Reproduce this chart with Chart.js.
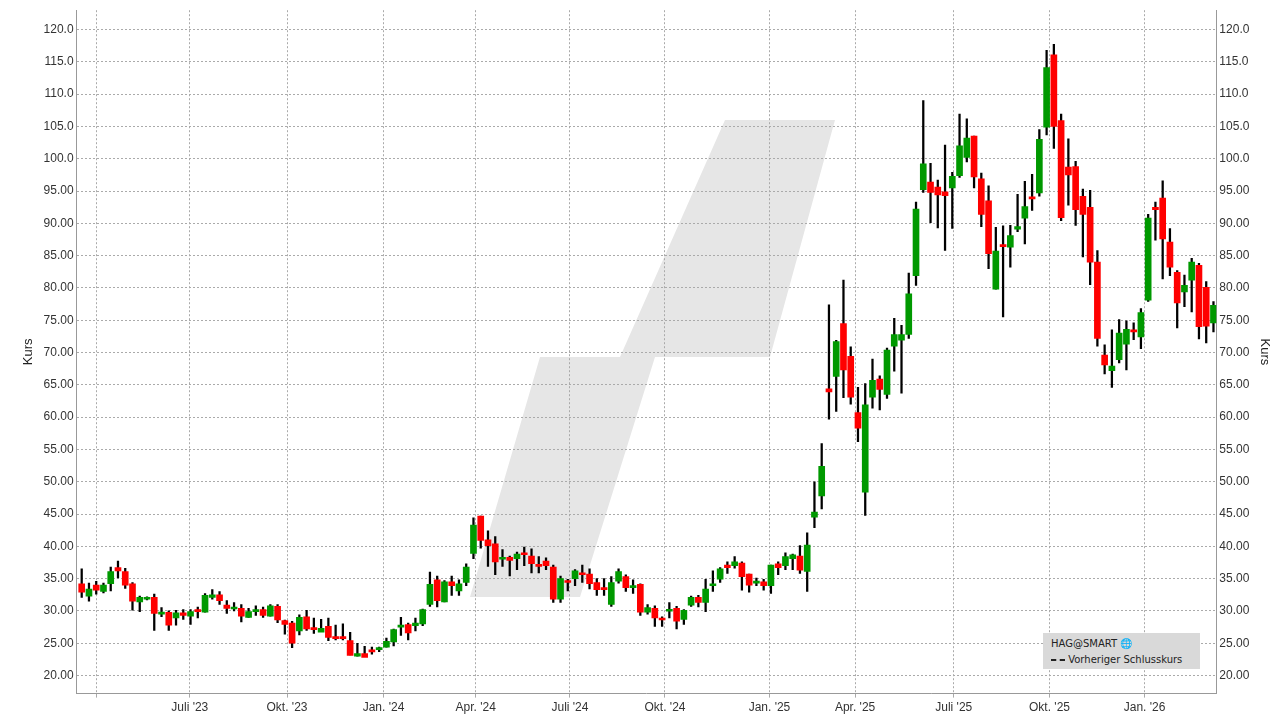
<!DOCTYPE html>
<html>
<head>
<meta charset="utf-8">
<script src="https://cdn.jsdelivr.net/npm/chart.js@4"></script>
<style>
  body { margin: 0; background: #fff; font-family: "DejaVu Sans", sans-serif; }
  #wrap { position: relative; width: 1280px; height: 718px; }
  #legend { position: absolute; left: 1043px; top: 633px; width: 157px; height: 36px; background: #d9d9d9; font-size: 10px; color: #222; }
  #legend div { position: absolute; left: 8px; }
</style>
</head>
<body>
<div id="wrap">
  <canvas id="myChart" width="1280" height="718"></canvas>
  <div id="legend">
    <div style="top:5px">HAG@SMART &#127760;</div>
    <div style="top:21px"><span style="display:inline-block;width:14px;border-top:2px dashed #222;vertical-align:middle"></span> Vorheriger Schlusskurs</div>
  </div>
</div>
<script>
// Wochenkerzen (Open, High, Low, Close)
const open = [34.2,32.3,34.0,33.0,34.2,36.7,36.1,34.2,31.4,31.8,32.1,29.5,29.8,28.9,29.7,29.2,30.2,29.8,32.1,32.5,30.9,30.3,30.4,29.0,29.9,30.2,29.2,30.7,28.5,28.1,26.9,29.1,27.4,
  26.7,27.6,26.0,26.0,25.4,23.0,23.4,23.9,24.0,24.4,25.2,27.5,27.9,27.7,28.0,31.0,34.8,31.4,34.5,33.1,34.4,38.9,44.7,41.0,40.4,38.0,38.3,38.1,39.0,38.5,37.1,37.7,36.8,
  31.8,34.7,35.0,35.9,35.7,34.4,33.6,31.0,34.6,35.3,33.6,34.1,29.8,30.4,28.8,29.95,30.4,28.7,30.9,32.1,31.3,33.9,34.9,37.1,37.0,37.4,35.7,34.3,34.5,33.9,37.3,37.0,38.1,38.5,36.1,
  44.5,47.8,64.4,66.3,74.5,69.4,60.7,48.4,63.1,65.9,63.5,71.0,71.9,72.8,81.9,95.2,96.4,95.6,94.9,95.5,97.4,100.2,103.5,96.9,93.5,
  79.8,86.7,86.3,89.1,90.8,94.0,94.7,104.9,116.1,105.9,98.7,98.8,94.2,92.5,84.0,69.6,67.2,68.9,71.3,73.5,72.4,78.1,92.5,93.9,87.1,82.4,79.4,81.2,83.5,80.1,74.6];
const high = [36.5,34.3,34.6,34.3,36.8,37.7,36.6,34.4,32.3,32.2,32.6,30.5,30.0,30.1,30.2,30.2,30.6,32.7,33.3,33.0,31.6,31.3,31.0,30.4,30.8,30.6,31.0,31.0,28.6,28.4,29.4,30.1,28.9,
  28.7,28.9,27.8,28.0,26.7,25.0,24.5,24.4,24.4,25.8,27.2,29.0,28.1,28.9,30.3,36.0,35.4,34.7,35.4,34.8,37.3,44.4,44.7,42.4,41.5,39.5,38.5,39.1,39.9,39.6,38.4,38.2,37.1,
  35.4,34.9,36.4,37.1,36.5,35.0,35.0,35.3,36.5,35.6,34.8,34.2,31.0,30.8,29.1,31.3,30.7,30.2,32.3,32.4,34.9,36.2,36.7,37.6,38.4,37.6,35.7,35.1,34.9,37.1,37.6,39.0,38.8,40.1,42.1,
  50.0,55.9,77.4,71.9,81.2,70.9,64.6,65.2,69.0,66.4,70.7,75.3,74.2,82.3,93.3,109.0,99.3,96.7,102.1,97.9,106.9,106.2,103.5,97.8,95.8,
  89.4,89.6,89.7,94.5,96.5,97.6,104.5,116.8,117.7,106.9,103.1,99.6,95.3,95.1,85.8,71.2,73.5,75.1,74.9,74.6,76.8,91.4,93.3,96.6,89.2,82.7,82.0,84.6,83.8,81.0,77.9];
const low = [32.1,31.5,32.6,32.8,33.1,35.1,33.5,30.1,29.9,31.7,27.0,29.1,27.0,27.8,28.7,27.9,28.9,29.8,31.8,31.0,29.6,30.0,28.3,29.0,29.3,29.0,29.2,28.2,26.4,24.3,26.3,27.0,26.5,
  27.1,25.4,25.5,25.5,23.2,23.0,23.2,23.3,23.7,24.4,24.6,26.2,25.5,26.9,27.7,30.7,30.6,31.4,32.4,32.4,33.9,38.1,39.7,36.9,35.6,36.9,35.4,36.4,37.0,35.9,35.9,36.4,31.3,
  31.3,33.1,33.9,34.4,33.4,32.4,32.4,30.7,34.3,33.0,32.7,29.3,29.5,27.6,27.6,28.9,27.2,27.9,30.7,30.6,29.9,33.0,34.4,35.8,36.6,33.2,32.9,33.9,33.2,32.7,35.6,36.4,36.4,35.8,33.0,
  42.9,45.8,59.7,60.9,63.0,62.0,56.2,44.8,61.4,61.1,62.9,67.1,63.7,72.2,80.4,94.8,90.1,89.3,85.8,89.2,97.1,99.5,95.5,89.5,83.0,
  79.8,75.5,83.2,88.7,86.8,92.0,94.2,103.7,101.6,90.4,92.8,89.7,84.8,80.5,71.0,66.7,64.6,68.4,67.3,72.0,70.6,77.9,87.4,81.4,81.9,73.8,77.1,76.3,72.1,71.5,73.2];
const close = [32.9,33.4,33.2,34.0,36.1,36.2,34.0,31.5,32.1,32.1,29.6,29.8,27.8,29.7,29.3,29.9,29.9,32.4,32.5,31.6,30.4,30.5,29.2,29.9,30.2,29.3,30.8,28.6,27.9,25.0,29.0,27.2,27.1,
  27.3,25.9,25.7,25.7,23.1,23.4,22.8,23.65,24.3,25.3,27.1,27.8,26.6,28.1,30.2,34.1,31.6,34.5,33.9,34.2,36.8,43.3,40.9,40.1,37.6,38.3,37.8,38.8,38.7,37.3,36.9,37.0,31.8,
  35.0,34.4,36.2,35.6,34.2,33.3,33.3,34.4,36.1,33.6,33.9,29.8,30.5,28.9,28.6,30.26,28.4,30.1,32.1,31.3,33.4,34.2,36.5,36.7,37.6,35.3,34.0,34.6,33.9,37.1,36.7,38.4,38.7,36.3,40.2,
  45.3,52.4,63.9,71.7,67.3,63.1,58.3,61.9,65.7,64.3,70.4,72.8,72.8,79.1,92.2,99.2,94.8,94.4,94.3,97.3,102.0,103.2,97.2,91.4,85.3,
  85.7,86.4,88.1,89.5,92.6,93.8,103.0,114.1,105.0,90.9,97.5,92.1,91.4,84.0,72.2,68.1,67.9,73.0,73.6,73.2,76.2,90.8,92.1,87.6,83.2,77.7,80.4,84.0,74.0,74.1,77.3];

// Quartalslinien (Position in Wochen) und Beschriftungen
const quarterPos = [2.1,14.9,28.3,41.6,54.3,67.3,80.4,94.8,106.6,120.2,133.4,146.5];
const quarterLabels = ['',"Juli '23","Okt. '23","Jan. '24","Apr. '24","Juli '24","Okt. '24","Jan. '25","Apr. '25","Juli '25","Okt. '25","Jan. '26"];

const wicks = high.map((h, i) => ({ x: i, y: [low[i], h] }));
const bodies = open.map((o, i) => ({ x: i, y: [o, close[i]] }));
const bodyColors = open.map((o, i) => close[i] >= o ? '#009900' : '#ff0000');

const watermark = {
  id: 'watermark',
  beforeDraw(chart) {
    const c = chart.ctx;
    c.save();
    c.fillStyle = '#e6e6e6';
    c.beginPath();
    c.moveTo(725, 120); c.lineTo(835, 120); c.lineTo(770, 357); c.lineTo(655, 357);
    c.lineTo(580, 597); c.lineTo(470, 597); c.lineTo(540, 357); c.lineTo(620, 357);
    c.closePath();
    c.fill();
    c.restore();
  }
};

const yTicks = {
  color: '#333', font: { size: 12 },
  callback: v => Number(v).toPrecision(4)
};
const fiveSteps = s => { s.ticks = []; for (let v = 20; v <= 120; v += 5) s.ticks.push({ value: v }); };

new Chart(document.getElementById('myChart'), {
  type: 'bar',
  data: {
    datasets: [
      { data: bodies, backgroundColor: bodyColors, barThickness: 6, minBarLength: 2, grouped: false, order: 1 },
      { data: wicks, backgroundColor: '#000', barThickness: 1.6, grouped: false, order: 2 }
    ]
  },
  plugins: [watermark],
  options: {
    responsive: false,
    animation: false,
    layout: { padding: { top: 0, right: 4, bottom: 0, left: 17 } },
    plugins: { legend: { display: false }, tooltip: { enabled: false } },
    scales: {
      x: {
        type: 'linear', min: -0.7, max: 156.4, offset: false,
        afterBuildTicks: s => { s.ticks = quarterPos.map(v => ({ value: v })); },
        ticks: { autoSkip: false, maxRotation: 0, color: '#333', font: { size: 12 },
          callback: (v, i) => quarterLabels[i] },
        grid: { color: '#aaaaaa', offset: false, tickLength: 4 },
        border: { color: '#999', dash: [2, 2] }
      },
      y: {
        position: 'left', min: 17.2, max: 123.0,
        afterBuildTicks: fiveSteps,
        ticks: yTicks, grid: { color: '#aaaaaa', tickLength: 0 },
        border: { color: '#999', dash: [2, 2] },
        title: { display: true, text: 'Kurs', color: '#222', font: { size: 13 } }
      },
      y2: {
        position: 'right', min: 17.2, max: 123.0,
        afterBuildTicks: fiveSteps,
        ticks: yTicks, grid: { drawOnChartArea: false, tickLength: 0 },
        border: { color: '#999' },
        title: { display: true, text: 'Kurs', color: '#222', font: { size: 13 } }
      }
    }
  }
});
</script>
</body>
</html>
